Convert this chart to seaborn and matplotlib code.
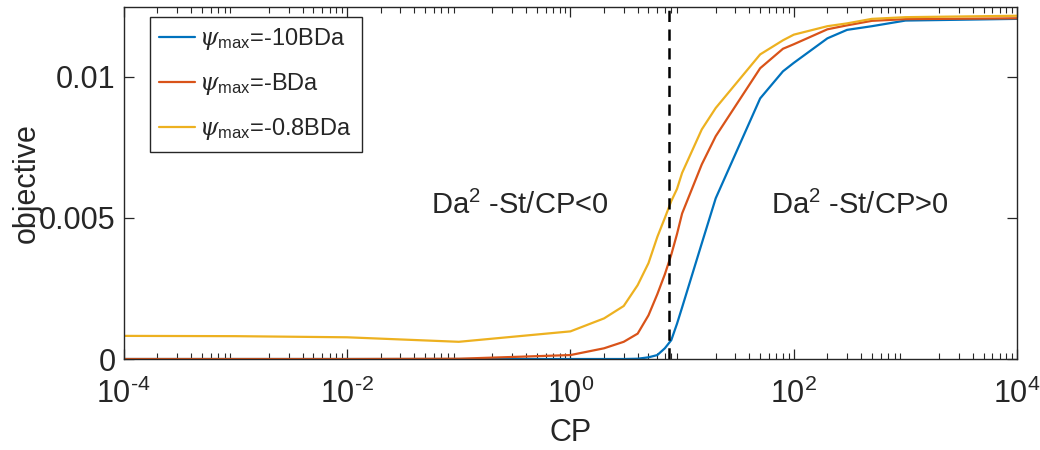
import numpy as np
import pandas as pd
import matplotlib
matplotlib.use("Agg")
import matplotlib.pyplot as plt
import seaborn as sns
from matplotlib.ticker import LogLocator, FixedLocator, FixedFormatter, NullFormatter

cp = [1e-4, 1e-3, 1e-2, 1e-1, 1, 2, 3, 4, 5, 6, 7, 8, 9, 10, 15, 20, 50, 80,
      100, 200, 300, 500, 1000, 1e4]
obj_10bda = [0, 0, 0, 0, 0, 0, 0, 0.00001, 0.00006, 0.00014, 0.00038, 0.00067,
             0.00125, 0.00183, 0.0041, 0.0057, 0.00924, 0.0102, 0.0105, 0.01137,
             0.01167, 0.0118, 0.0120, 0.01206]
obj_bda = [0, 0, 0, 0.00001, 0.00014, 0.00038, 0.00061, 0.00090, 0.00155, 0.0023,
           0.0030, 0.0037, 0.00443, 0.00516, 0.0069, 0.0079, 0.01031, 0.0110,
           0.01116, 0.01169, 0.01183, 0.01199, 0.01205, 0.01208]
obj_08bda = [0.00082, 0.00081, 0.00077, 0.00061, 0.00098, 0.00144, 0.00188, 0.00262,
             0.0034, 0.00433, 0.0050, 0.0056, 0.00603, 0.0066, 0.00814, 0.0089,
             0.0108, 0.0113, 0.0115, 0.0118, 0.0119, 0.01206, 0.01212, 0.01217]
labels = [r'$\psi_{\mathrm{max}}$=-10BDa', r'$\psi_{\mathrm{max}}$=-BDa',
          r'$\psi_{\mathrm{max}}$=-0.8BDa']
colors = ['#0072BD', '#D95319', '#EDB120']
cp_threshold = 7.63
xtick_values = [1e-4, 1e-2, 1e0, 1e2, 1e4]
xtick_labels = [r'$10^{\text{-}4}$', r'$10^{\text{-}2}$', r'$10^{0}$', r'$10^{2}$', r'$10^{4}$']
ytick_values = [0, 0.005, 0.01]
ytick_labels = ['0', '0.005', '0.01']

df = pd.DataFrame({
    'CP': cp * 3,
    'objective': obj_10bda + obj_bda + obj_08bda,
    'series': [labels[0]] * len(cp) + [labels[1]] * len(cp) + [labels[2]] * len(cp),
})

sns.set_style("ticks")
plt.rcParams['font.family'] = ['Liberation Sans', 'DejaVu Sans']
plt.rcParams['mathtext.fontset'] = 'custom'
plt.rcParams['mathtext.rm'] = 'Liberation Sans'
plt.rcParams['mathtext.it'] = 'DejaVu Serif:italic'

fig = plt.figure(figsize=(10.4, 4.5), dpi=100)
ax = fig.add_axes([0.119, 0.2022, 0.859, 0.7822])

sns.lineplot(data=df, x='CP', y='objective', hue='series', hue_order=labels,
             palette=colors, linewidth=1.6, ax=ax, estimator=None, sort=True)
ax.set_xscale('log')
ax.axvline(cp_threshold, color='black', linestyle=(0, (4.5, 3)), linewidth=1.8)

ax.set_xlim(1e-4, 1e4)
ax.set_ylim(0, 0.01248)
ax.xaxis.set_major_locator(FixedLocator(xtick_values))
ax.xaxis.set_major_formatter(FixedFormatter(xtick_labels))
ax.xaxis.set_minor_locator(LogLocator(base=10, subs=np.arange(2, 10), numticks=50))
ax.xaxis.set_minor_formatter(NullFormatter())
ax.yaxis.set_major_locator(FixedLocator(ytick_values))
ax.yaxis.set_major_formatter(FixedFormatter(ytick_labels))

for s in ax.spines.values():
    s.set_visible(True)
    s.set_color('#262626')
    s.set_linewidth(1.0)
ax.tick_params(axis='both', which='both', direction='in', top=True, right=True,
               colors='#262626', labelsize=22)
ax.tick_params(axis='both', which='major', length=7, width=0.9)
ax.tick_params(axis='x', which='minor', length=4, width=0.8)
ax.tick_params(axis='x', which='major', pad=14)
ax.tick_params(axis='y', which='major', pad=6)

ax.set_xlabel('CP', fontsize=22, color='#262626', labelpad=6)
ax.set_ylabel('objective', fontsize=22, color='#262626', labelpad=-2)

ax.text(0.35, 0.00546, r'Da$^{2}$ -St/CP<0', fontsize=21, ha='center', va='center')
ax.text(390, 0.00546, r'Da$^{2}$ -St/CP>0', fontsize=21, ha='center', va='center')

leg = ax.legend(loc='upper left', bbox_to_anchor=(0.029, 0.972), fontsize=17,
                frameon=True, fancybox=False, edgecolor='#262626', framealpha=1,
                handlelength=1.5, handletextpad=0.2, borderpad=0.4, labelspacing=0.8,
                borderaxespad=0)
leg.get_frame().set_linewidth(1.0)

fig.savefig('out.png', dpi=100)
